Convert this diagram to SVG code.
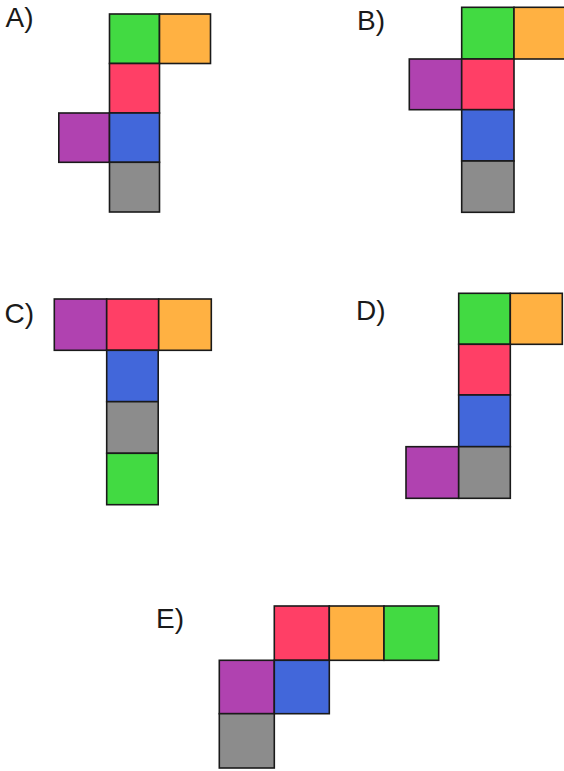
<svg xmlns="http://www.w3.org/2000/svg" width="564" height="771" viewBox="0 0 564 771">
<style>
.lbl{font-family:"Liberation Sans",Arial,sans-serif;font-size:28px;fill:#1a1a1a}
rect{stroke:#1a1a1a;stroke-width:1.6}
.g{fill:#42da42}.o{fill:#ffb142}.r{fill:#ff3f66}.p{fill:#b042b0}.b{fill:#4267da}.k{fill:#8c8c8c}
</style>
<rect width="564" height="771" fill="#ffffff" style="stroke:none"/>
<g id="A">
<text class="lbl" x="5.5" y="26.5">A)</text>
<rect class="g" x="109.5" y="14" width="50" height="49.5"/>
<rect class="o" x="159.5" y="14" width="51" height="49.5"/>
<rect class="r" x="109.5" y="63.5" width="50" height="49.5"/>
<rect class="p" x="58.8" y="113" width="50.7" height="49.3"/>
<rect class="b" x="109.5" y="113" width="50" height="49.3"/>
<rect class="k" x="109.5" y="162.3" width="50" height="49.7"/>
</g>
<g id="B">
<text class="lbl" x="357" y="30">B)</text>
<rect class="g" x="461.7" y="7.3" width="52.3" height="51.7"/>
<rect class="o" x="514" y="7.3" width="52.3" height="51.7"/>
<rect class="p" x="409.3" y="59" width="52.4" height="50.7"/>
<rect class="r" x="461.7" y="59" width="52.3" height="50.7"/>
<rect class="b" x="461.7" y="109.7" width="52.3" height="51.3"/>
<rect class="k" x="461.7" y="161" width="52.3" height="51.3"/>
</g>
<g id="C">
<text class="lbl" x="4.5" y="322.5">C)</text>
<rect class="p" x="54.3" y="299" width="52.4" height="51.3"/>
<rect class="r" x="106.7" y="299" width="52" height="51.3"/>
<rect class="o" x="158.7" y="299" width="52.6" height="51.3"/>
<rect class="b" x="106.7" y="350.3" width="51.5" height="51.4"/>
<rect class="k" x="106.7" y="401.7" width="51.5" height="51.6"/>
<rect class="g" x="106.7" y="453.3" width="51.5" height="51.4"/>
</g>
<g id="D">
<text class="lbl" x="356" y="320">D)</text>
<rect class="g" x="458.7" y="293.3" width="51.6" height="51"/>
<rect class="o" x="510.3" y="293.3" width="52" height="51"/>
<rect class="r" x="458.7" y="344.3" width="51.6" height="50.7"/>
<rect class="b" x="458.7" y="395" width="51.6" height="51.7"/>
<rect class="p" x="406" y="446.7" width="52.7" height="51.6"/>
<rect class="k" x="458.7" y="446.7" width="51.6" height="51.6"/>
</g>
<g id="E">
<text class="lbl" x="156" y="628">E)</text>
<rect class="r" x="274.3" y="606" width="55" height="54.3"/>
<rect class="o" x="329.3" y="606" width="54.7" height="54.3"/>
<rect class="g" x="384" y="606" width="54.7" height="54.3"/>
<rect class="p" x="219.3" y="660.3" width="55" height="53.4"/>
<rect class="b" x="274.3" y="660.3" width="55" height="53.4"/>
<rect class="k" x="219.3" y="713.7" width="55" height="54.3"/>
</g>
<g id="connectors"></g>
</svg>
